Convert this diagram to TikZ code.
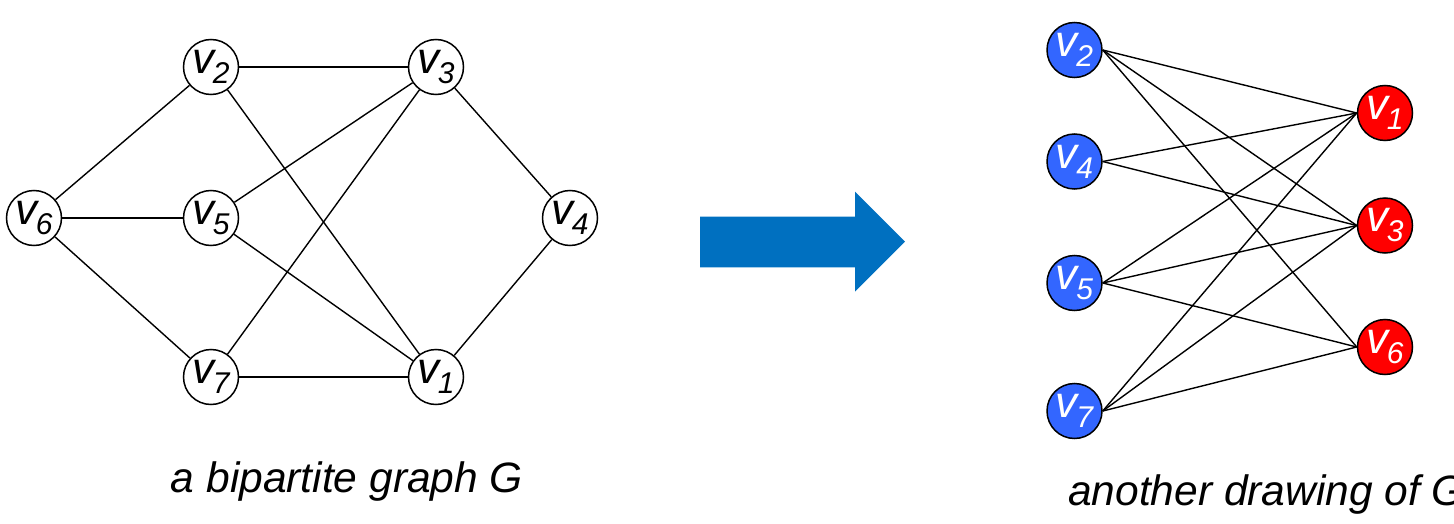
\documentclass[tikz,border=0pt]{standalone}
\usepackage{fontspec}
\setmainfont{Liberation Sans}
\definecolor{arrowblue}{RGB}{0,112,192}
\definecolor{nodeblue}{RGB}{51,102,255}
\definecolor{nodered}{RGB}{255,0,0}
\newcommand{\vlab}[1]{v\kern-1.5pt\raisebox{-10pt}{\fontsize{30}{30}\selectfont #1}}
\tikzset{
  vert/.style={circle, draw=black, line width=1.5pt, minimum size=55pt, inner sep=0pt,
    font=\fontsize{44}{44}\selectfont\itshape},
  wvert/.style={vert, fill=white},
  bvert/.style={vert, fill=nodeblue, text=white},
  rvert/.style={vert, fill=nodered, text=white},
  edge/.style={line width=1.4pt, black},
  caption/.style={font=\fontsize{42.5}{42.5}\selectfont\itshape, inner sep=0pt}
}
\begin{document}
\begin{tikzpicture}[x=1pt,y=-1pt]
\useasboundingbox (0,0) rectangle (1454,524);
\clip (0,0) rectangle (1454,524);
% left graph
\node[wvert] (a2) at (211,67) {\vlab{2}};
\node[wvert] (a3) at (436,67) {\vlab{3}};
\node[wvert] (a6) at (34,218) {\vlab{6}};
\node[wvert] (a5) at (211,218) {\vlab{5}};
\node[wvert] (a4) at (570,218) {\vlab{4}};
\node[wvert] (a7) at (211,377) {\vlab{7}};
\node[wvert] (a1) at (436,377) {\vlab{1}};
\draw[edge] (a2) -- (a3);
\draw[edge] (a2) -- (a6);
\draw[edge] (a2) -- (a1);
\draw[edge] (a3) -- (a5);
\draw[edge] (a3) -- (a7);
\draw[edge] (a3) -- (a4);
\draw[edge] (a6) -- (a5);
\draw[edge] (a6) -- (a7);
\draw[edge] (a5) -- (a1);
\draw[edge] (a7) -- (a1);
\draw[edge] (a1) -- (a4);
\node[caption, anchor=base] (capL) at (347,492) {a bipartite graph G};
% arrow
\fill[arrowblue] (700,216.7) -- (855,216.7) -- (855,191.7) -- (905,241.7) -- (855,291.7) -- (855,267.3) -- (700,267.3) -- cycle;
% right graph
\node[bvert] (b2) at (1074.5,50) {\vlab{2}};
\node[bvert] (b4) at (1074.5,161.5) {\vlab{4}};
\node[bvert] (b5) at (1074.5,283) {\vlab{5}};
\node[bvert] (b7) at (1074.5,411) {\vlab{7}};
\node[rvert] (r1) at (1385,113) {\vlab{1}};
\node[rvert] (r3) at (1385,225.5) {\vlab{3}};
\node[rvert] (r6) at (1385,347) {\vlab{6}};
\foreach \s/\t in {b2/r1,b2/r3,b2/r6,b4/r1,b4/r3,b5/r1,b5/r3,b5/r6,b7/r1,b7/r3,b7/r6}
  \draw[edge] (\s.east) -- (\t.west);
\node[caption, anchor=base west] (capR) at (1068,505) {another drawing of G};
\end{tikzpicture}
\end{document}
